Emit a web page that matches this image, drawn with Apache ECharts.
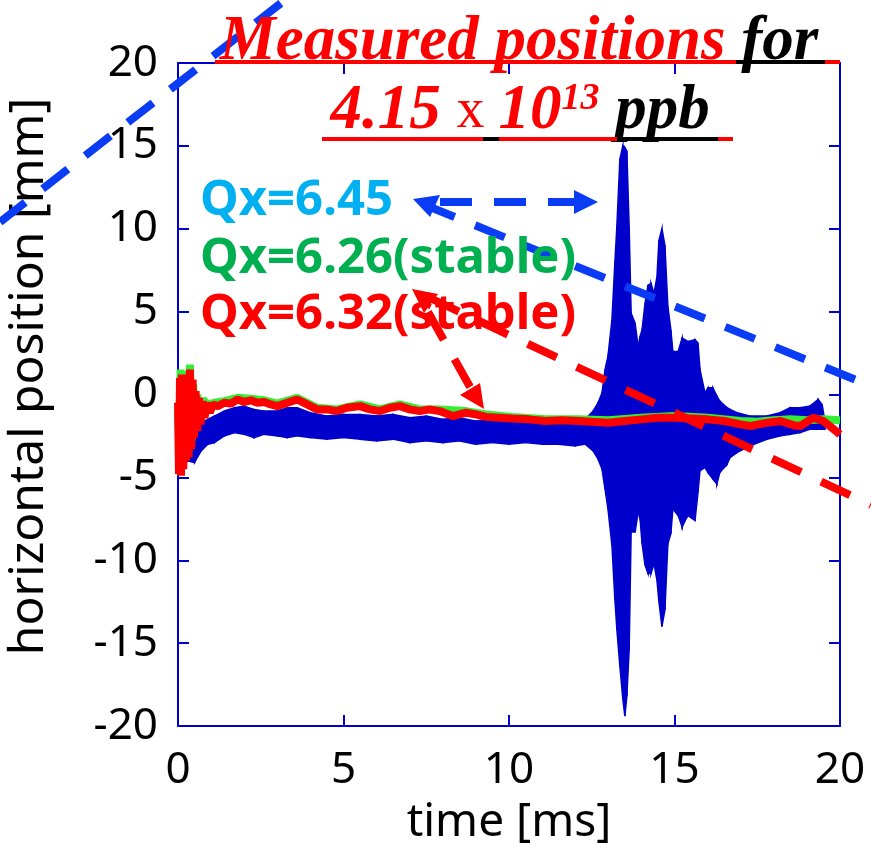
<!DOCTYPE html>
<html>
<head>
<meta charset="utf-8">
<script src="https://cdn.jsdelivr.net/npm/echarts@6/dist/echarts.min.js"></script>
<style>
  html, body { margin: 0; padding: 0; background: #fff; }
  #main { width: 871px; height: 843px; }
</style>
</head>
<body>
<div id="main"></div>
<script>
// blue trace (Qx=6.45): envelope of the fast oscillation
var blueTime = [0.05, 0.30, 0.50, 0.70, 0.90, 1.10, 1.40, 1.70, 2.00, 2.30, 2.60, 3.00, 3.30, 3.60, 4.00, 4.50,
  5.00, 5.50, 6.00, 6.50, 7.00, 7.50, 8.00, 8.50, 9.00, 9.50, 10.00, 10.50, 11.00, 11.50, 12.00, 12.30,
  12.54, 12.69, 12.81, 12.90, 12.99, 13.11, 13.20, 13.26, 13.35, 13.44, 13.50, 13.56, 13.63, 13.69, 13.81,
  13.90, 13.96, 14.02, 14.11, 14.20, 14.29, 14.38, 14.47, 14.53, 14.62, 14.71, 14.80, 14.89, 14.95, 15.11,
  15.23, 15.32, 15.41, 15.62, 15.71, 15.77, 15.92, 16.01, 16.16, 16.28, 16.37, 16.59, 16.68, 16.89, 17.28,
  17.79, 18.19, 18.49, 18.79, 19.09, 19.34, 19.46, 19.55];
var blueUpper = [-0.5, -1.5, -1.9, -1.7, -1.5, -1.3, -1.0, -0.8, -0.7, -0.9, -1.0, -1.0, -0.8, -0.8, -1.1, -1.3,
  -1.2, -1.2, -1.3, -1.2, -1.4, -1.3, -1.5, -1.4, -1.6, -1.5, -1.6, -1.7, -1.8, -1.7, -1.8, -1.5,
  -1.0, -0.5, 0.1, 1.5, 2.3, 4.5, 8.0, 10.2, 14.2, 15.0, 14.9, 14.7, 10.1, 4.9, 4.3,
  2.9, 3.5, 3.9, 5.5, 6.6, 6.7, 6.1, 7.1, 9.3, 10.0, 9.0, 5.3, 3.9, 2.6, 2.6,
  3.4, 3.3, 3.2, 3.3, 3.1, 1.5, 0.1, 0.4, 0.4, -0.1, -0.4, -0.8, -0.9, -1.1, -1.3,
  -1.3, -1.1, -0.8, -0.8, -0.7, -0.3, -0.6, -1.7];
var blueLower = [-4.5, -4.0, -4.1, -3.4, -3.0, -2.9, -2.5, -2.3, -2.4, -2.6, -2.4, -2.5, -2.6, -2.5, -2.6, -2.7,
  -2.6, -2.7, -2.8, -2.7, -2.9, -2.8, -2.9, -2.8, -3.0, -2.9, -3.0, -2.9, -3.0, -3.0, -3.1, -3.0,
  -3.4, -3.9, -4.5, -5.7, -6.9, -9.1, -12.4, -14.2, -16.4, -18.4, -19.4, -18.2, -15.4, -8.3, -8.3,
  -7.1, -7.5, -9.0, -10.3, -10.8, -10.8, -10.2, -11.2, -12.5, -14.0, -13.0, -9.0, -8.4, -6.9, -7.3,
  -8.0, -7.6, -7.3, -7.6, -5.9, -4.6, -4.4, -4.7, -5.1, -5.4, -4.7, -4.2, -3.8, -3.5, -3.1,
  -2.7, -2.5, -2.4, -2.3, -2.1, -2.1, -2.1, -2.1];

// red trace (Qx=6.32, stable)
var redTime = [0.00, 0.03, 0.06, 0.09, 0.12, 0.16, 0.20, 0.24, 0.28, 0.32, 0.36, 0.40, 0.44, 0.48, 0.53, 0.58,
  0.63, 0.68, 0.74, 0.80, 0.88, 0.96, 1.05, 1.20, 1.40, 1.60, 1.80, 2.00, 2.20, 2.40, 2.60, 2.80, 3.00,
  3.30, 3.60, 3.90, 4.20, 4.50, 4.80, 5.10, 5.50, 5.80, 6.10, 6.40, 6.70, 7.00, 7.30, 7.60, 7.90, 8.30,
  8.70, 9.00, 9.30, 9.70, 10.10, 10.60, 11.10, 11.60, 12.10, 12.50, 13.00, 13.50, 14.00, 14.50, 15.00,
  15.50, 16.00, 16.50, 17.00, 17.30, 17.80, 18.20, 18.60, 18.80, 19.20, 19.50, 19.75, 20.00];
var redValue = [-0.5, -4.8, 1.0, -4.9, 1.2, -4.5, 0.8, -4.0, 1.0, -3.8, 1.5, -3.3, 0.9, -2.6, 0.2, -2.2,
  -0.2, -1.8, -0.4, -1.4, -0.5, -1.1, -0.6, -0.7, -0.5, -0.55, -0.3, -0.45, -0.35, -0.5, -0.45, -0.6, -0.7,
  -0.5, -0.3, -0.6, -0.9, -0.9, -1.0, -0.8, -0.7, -0.9, -1.0, -0.8, -0.7, -0.9, -1.0, -0.9, -1.0, -1.3,
  -1.1, -1.2, -1.35, -1.4, -1.45, -1.5, -1.6, -1.55, -1.6, -1.65, -1.7, -1.6, -1.5, -1.4, -1.4,
  -1.45, -1.5, -1.6, -1.8, -1.9, -1.7, -1.6, -1.85, -1.9, -1.4, -1.6, -2.0, -2.4];

// green trace (Qx=6.26, stable) - mostly hidden under the red one
var greenTime = [0.00, 0.04, 0.08, 0.12, 0.17, 0.22, 0.27, 0.32, 0.36, 0.41, 0.46, 0.52, 0.58, 0.65, 0.75, 0.90,
  1.10, 1.40, 1.80, 2.20, 2.60, 3.00, 3.60, 4.20, 4.80, 5.50, 6.10, 6.70, 7.30, 7.90, 8.70, 9.30, 10.10,
  11.10, 12.10, 13.00, 14.00, 15.00, 16.00, 17.00, 17.50, 18.00, 18.50, 19.00, 19.50, 20.00];
var greenValue = [-1.0, -3.0, 1.5, -3.5, 1.4, -3.2, 1.0, -3.0, 1.8, -2.8, 0.6, -2.0, 0.0, -1.5, -0.3, -0.6,
  -0.5, -0.4, -0.2, -0.25, -0.35, -0.55, -0.2, -0.8, -0.9, -0.6, -0.9, -0.6, -0.9, -0.9, -1.0, -1.2, -1.35,
  -1.5, -1.5, -1.55, -1.4, -1.3, -1.4, -1.6, -1.65, -1.55, -1.5, -1.55, -1.5, -1.55];

var xTicks = [0, 5, 10, 15, 20];
var yTicks = [-20, -15, -10, -5, 0, 5, 10, 15, 20];

var AX = '#0000cc';
var FONT = '"Noto Sans", sans-serif';
var SERIF = '"Liberation Serif", "Times New Roman", serif';
var DASH_BLUE = '#0a3cf5';
var DASH_RED = '#ff0000';

function axisCommon(pos, showLabel) {
  return {
    type: 'value',
    position: pos,
    axisLine: { show: true, onZero: false, lineStyle: { color: AX, width: 2 } },
    axisTick: { show: true, inside: true, length: 11, lineStyle: { color: AX, width: 2 } },
    splitLine: { show: false },
    axisLabel: { show: showLabel, color: '#000', fontSize: 44, fontFamily: FONT }
  };
}

var xBottom = axisCommon('bottom', true);
xBottom.min = xTicks[0]; xBottom.max = xTicks[xTicks.length - 1]; xBottom.interval = 5;
xBottom.axisLabel.margin = 22;
xBottom.name = 'time [ms]';
xBottom.nameLocation = 'middle';
xBottom.nameGap = 74;
xBottom.nameTextStyle = { color: '#000', fontSize: 46, fontFamily: FONT };
var xTop = axisCommon('top', false);
xTop.min = 0; xTop.max = 20; xTop.interval = 5;

var yLeft = axisCommon('left', true);
yLeft.min = yTicks[0]; yLeft.max = yTicks[yTicks.length - 1]; yLeft.interval = 5;
yLeft.axisLabel.margin = 20;
yLeft.name = 'horizontal position [mm]';
yLeft.nameLocation = 'middle';
yLeft.nameGap = 125;
yLeft.nameRotate = 90;
yLeft.nameTextStyle = { color: '#000', fontSize: 48, fontFamily: FONT, padding: [0, 0, 0, 36] };
var yRight = axisCommon('right', false);
yRight.min = -20; yRight.max = 20; yRight.interval = 5;

function pairs(ts, vs) {
  return ts.map(function (t, i) { return [t, vs[i]]; });
}

var chart = echarts.init(document.getElementById('main'));

var underline = function (x1, x2, y, color) {
  return { type: 'line', z: 20, shape: { x1: x1, y1: y, x2: x2, y2: y }, style: { stroke: color, lineWidth: 4 } };
};
var dashed = function (x1, y1, x2, y2, color) {
  return { type: 'line', z: 15, shape: { x1: x1, y1: y1, x2: x2, y2: y2 },
    style: { stroke: color, lineWidth: 8, lineDash: [32, 22] } };
};
var head = function (pts, color) {
  return { type: 'polygon', z: 15, shape: { points: pts }, style: { fill: color } };
};

var option = {
  animation: false,
  backgroundColor: '#fff',
  grid: { left: 178, right: 31, top: 63, bottom: 117, containLabel: false, outerBoundsMode: 'none' },
  xAxis: [xBottom, xTop],
  yAxis: [yLeft, yRight],
  series: [
    {
      type: 'custom',
      name: 'Qx=6.45',
      xAxisIndex: 0,
      yAxisIndex: 0,
      clip: true,
      z: 2,
      data: blueTime.map(function (t, i) { return [t, blueUpper[i], blueLower[i]]; }),
      encode: { x: 0, y: [1, 2] },
      renderItem: function (params, api) {
        var i = params.dataIndex;
        if (i >= blueTime.length - 1) return null;
        var pts = [
          api.coord([blueTime[i], blueUpper[i]]),
          api.coord([blueTime[i + 1], blueUpper[i + 1]]),
          api.coord([blueTime[i + 1], blueLower[i + 1]]),
          api.coord([blueTime[i], blueLower[i]])
        ];
        return { type: 'polygon', shape: { points: pts }, style: { fill: '#0000cc', stroke: '#0000cc', lineWidth: 1.5 } };
      }
    },
    {
      type: 'line',
      name: 'Qx=6.26',
      z: 3,
      showSymbol: false,
      data: pairs(greenTime, greenValue),
      lineStyle: { color: '#33ee33', width: 8 }
    },
    {
      type: 'line',
      name: 'Qx=6.32',
      z: 4,
      showSymbol: false,
      data: pairs(redTime, redValue),
      lineStyle: { color: '#ff0000', width: 8 }
    }
  ],
  graphic: [
    // annotation arrows
    dashed(0, 222, 285, 0, DASH_BLUE),
    dashed(440, 202, 578, 202, DASH_BLUE),
    head([[598, 202], [574, 190], [574, 214]], DASH_BLUE),
    dashed(425, 205, 871, 386, DASH_BLUE),
    head([[413, 199], [440, 195], [430, 217]], DASH_BLUE),
    dashed(428, 312, 474, 394, DASH_RED),
    head([[484, 409], [460, 395], [480, 383]], DASH_RED),
    dashed(430, 298, 871, 505, DASH_RED),
    head([[412, 289], [438, 294], [424, 313]], DASH_RED),
    // legend-like labels
    { type: 'text', z: 18, left: 200, top: 177,
      style: { text: 'Qx=6.45', fill: '#00b0f0', font: 'bold 49px ' + FONT } },
    { type: 'text', z: 18, left: 200, top: 235,
      style: { text: 'Qx=6.26(stable)', fill: '#00b050', font: 'bold 49px ' + FONT } },
    { type: 'text', z: 18, left: 200, top: 291,
      style: { text: 'Qx=6.32(stable)', fill: '#ff0000', font: 'bold 49px ' + FONT } },
    // title
    { type: 'text', z: 20, x: 519, y: 11,
      style: {
        text: '{r|Measured positions }{k|for}',
        align: 'center',
        rich: {
          r: { fill: '#ff0000', font: 'italic bold 63px ' + SERIF },
          k: { fill: '#000', font: 'italic bold 63px ' + SERIF }
        }
      } },
    { type: 'text', z: 20, x: 520, y: 80,
      style: {
        text: '{r|4.15 }{x|x }{r|10}{s|13}{k| ppb}',
        align: 'center',
        rich: {
          r: { fill: '#ff0000', font: 'italic bold 63px ' + SERIF, lineHeight: 64 },
          x: { fill: '#ff0000', font: '56px ' + SERIF, lineHeight: 64 },
          s: { fill: '#ff0000', font: 'italic bold 38px ' + SERIF, verticalAlign: 'top', lineHeight: 64 },
          k: { fill: '#000', font: 'italic bold 63px ' + SERIF, lineHeight: 64 }
        }
      } },
    underline(215, 736, 62, '#ff0000'),
    underline(736, 825, 62, '#000'),
    underline(825, 840, 62, '#ff0000'),
    underline(322, 483, 139, '#ff0000'),
    underline(483, 499, 139, '#000'),
    underline(499, 617, 139, '#ff0000'),
    underline(617, 718, 139, '#000'),
    underline(718, 733, 139, '#ff0000')
  ]
};

chart.setOption(option);
</script>
</body>
</html>
